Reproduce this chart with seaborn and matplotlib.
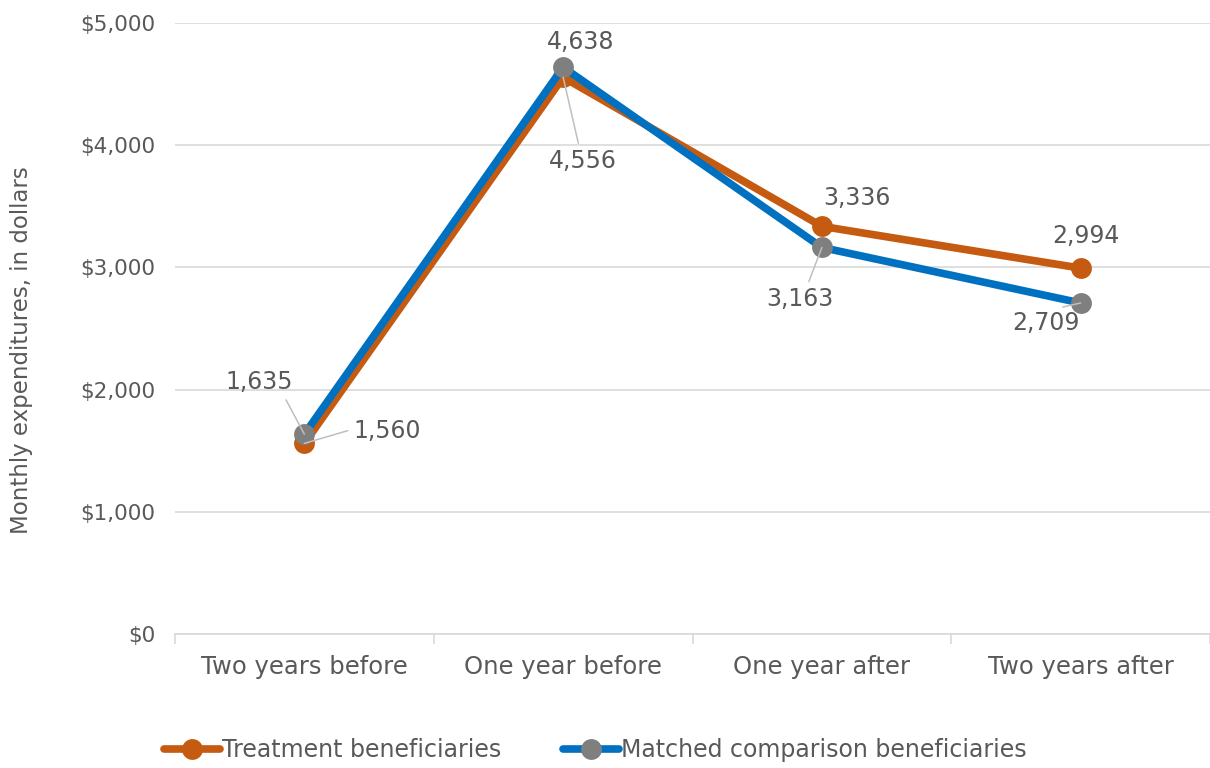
import matplotlib
matplotlib.use("Agg")
import matplotlib.pyplot as plt
import seaborn as sns
import pandas as pd
from matplotlib.ticker import FuncFormatter, FixedLocator
from matplotlib.lines import Line2D

categories = ["Two years before", "One year before", "One year after", "Two years after"]
treatment = [1560, 4556, 3336, 2994]
comparison = [1635, 4638, 3163, 2709]
series_names = ["Treatment beneficiaries", "Matched comparison beneficiaries"]
yticks = [0, 1000, 2000, 3000, 4000, 5000]

ORANGE = "#C55A11"
BLUE = "#0070C0"
GRAY = "#7F7F7F"
TXT = "#595959"
GRID = "#D9D9D9"

df = pd.DataFrame({
    "period": categories * 2,
    "value": treatment + comparison,
    "series": [series_names[0]] * 4 + [series_names[1]] * 4,
})

sns.set_theme(style="white")
plt.rcParams["font.family"] = ["DejaVu Sans"]

fig = plt.figure(figsize=(12.1, 7.68), dpi=100)
ax = fig.add_axes([175 / 1210, 134 / 768, 1035 / 1210, (634 - 23) / 768])

sns.lineplot(data=df, x="period", y="value", hue="series", sort=False,
             palette=[ORANGE, BLUE], marker="o", markersize=15, linewidth=5.5,
             markeredgewidth=0, ax=ax, legend=False)

lines = ax.get_lines()
lines[0].set_markerfacecolor(ORANGE)
lines[0].set_markeredgecolor(ORANGE)
lines[0].set_zorder(3)
lines[1].set_markerfacecolor(GRAY)
lines[1].set_markeredgecolor(GRAY)
lines[1].set_zorder(4)

ax.set_xlim(-0.5, 3.5)
ax.set_ylim(0, 5000)
ax.set_yticks(yticks)
ax.yaxis.set_major_formatter(FuncFormatter(lambda v, p: f"${int(v):,}"))
ax.grid(axis="y", color=GRID, linewidth=1.2)
ax.grid(axis="x", visible=False)
for s in ["top", "right", "left"]:
    ax.spines[s].set_visible(False)
ax.spines["bottom"].set_color(GRID)
ax.spines["bottom"].set_linewidth(1.2)
ax.tick_params(axis="y", length=0, pad=14, labelsize=15.5, labelcolor=TXT)
ax.tick_params(axis="x", which="major", length=0, pad=15, labelsize=17.5, labelcolor=TXT)
ax.xaxis.set_minor_locator(FixedLocator([-0.5, 0.5, 1.5, 2.5, 3.5]))
ax.tick_params(axis="x", which="minor", length=7, width=1.2, color=GRID, bottom=True)
ax.set_xlabel("")
ax.set_ylabel("Monthly expenditures, in dollars", fontsize=16.5, color=TXT)
ax.yaxis.set_label_coords((33 - 175) / 1035, (634 - 350) / 611)

lead = dict(arrowstyle="-", color="#BFBFBF", lw=1.1, shrinkA=2, shrinkB=0)

def lab(i, v, dx, dy, relpos=None):
    kw = {}
    if relpos is not None:
        kw["arrowprops"] = dict(lead, relpos=relpos)
    ax.annotate(f"{v:,}", xy=(i, v), xytext=(dx, dy), textcoords="offset pixels",
                ha="center", va="center", fontsize=17, color=TXT, zorder=6, **kw)

lab(0, comparison[0], -45, 52, (0.85, 0.0))
lab(0, treatment[0], 83, 12, (0.0, 0.6))
lab(1, comparison[1], 18, 25)
lab(1, treatment[1], 20, -84, (0.45, 1.0))
lab(2, treatment[2], 35, 28)
lab(2, comparison[2], -22, -52, (0.6, 1.0))
lab(3, treatment[3], 5, 32)
lab(3, comparison[3], -35, -20, (0.5, 1.0))

handles = [
    Line2D([0], [0], color=ORANGE, lw=5.5, marker="o", markersize=15,
           markerfacecolor=ORANGE, markeredgewidth=0),
    Line2D([0], [0], color=BLUE, lw=5.5, marker="o", markersize=15,
           markerfacecolor=GRAY, markeredgewidth=0),
]
leg = fig.legend(handles, series_names, loc="center", bbox_to_anchor=(0.492, 18 / 768),
                 ncol=2, frameon=False, fontsize=17, handlelength=2.4,
                 handletextpad=0.08, columnspacing=2.6)
for t in leg.get_texts():
    t.set_color(TXT)

fig.savefig("out.png", dpi=100)
